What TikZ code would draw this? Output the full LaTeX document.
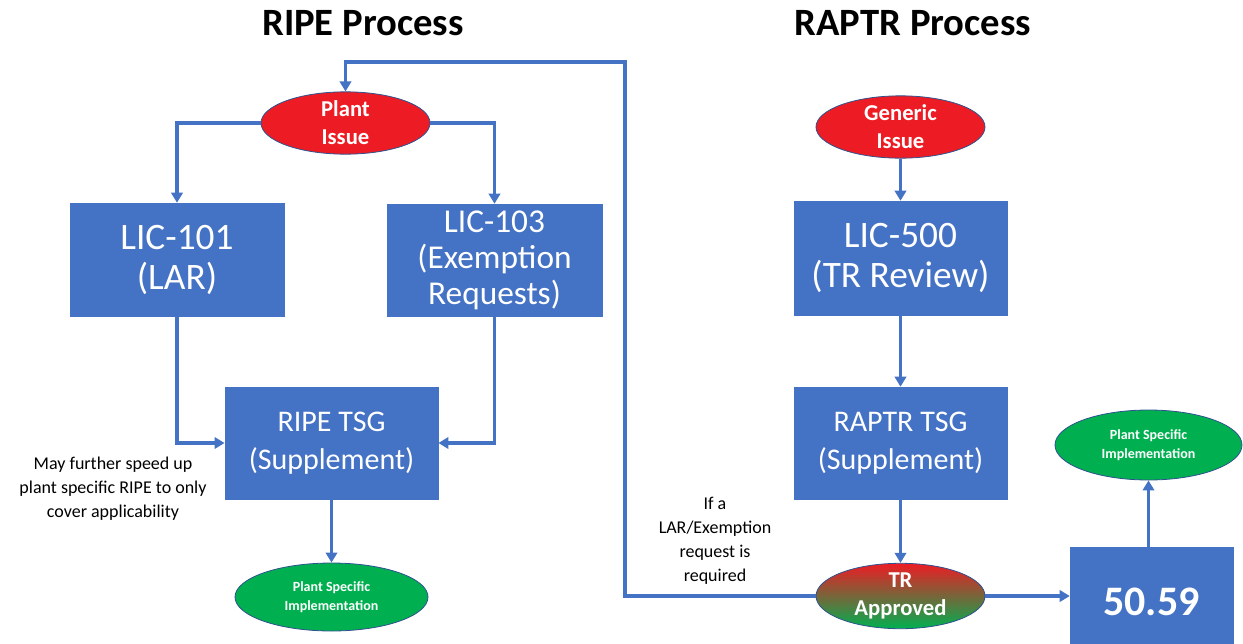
\documentclass[tikz,border=0pt]{standalone}
\usepackage{fontspec}
\setmainfont{Carlito}
\usetikzlibrary{shapes.geometric,arrows.meta}
\definecolor{boxblue}{HTML}{4472C4}
\definecolor{edgeblue}{HTML}{2F528F}
\definecolor{issuered}{HTML}{ED1C24}
\definecolor{implgreen}{HTML}{00B050}
\tikzset{
  stepbox/.style={rectangle, fill=boxblue, draw=boxblue, text=white, align=center,
    inner sep=0pt, minimum width=160pt, minimum height=84pt},
  oval/.style={ellipse, draw=edgeblue, line width=0.6pt, text=white, align=center,
    inner sep=0pt, font=\bfseries},
  issue/.style={oval, fill=issuered, minimum width=126.75pt, minimum height=44.5pt,
    font=\bfseries\fontsize{17}{21}\selectfont},
  impl/.style={oval, fill=implgreen, font=\bfseries\fontsize{10.5}{14}\selectfont},
  arr/.style={draw=boxblue, line width=2.6pt,
    -{Triangle[length=7.5pt,width=8.5pt]}},
  note/.style={align=center, text=black, font=\fontsize{13.5}{18}\selectfont},
  heading/.style={font=\bfseries\fontsize{29}{34}\selectfont, text=black}
}
\begin{document}
\begin{tikzpicture}[x=0.75pt,y=-0.75pt]
\useasboundingbox (0,0) rectangle (1243,643);
\clip (0,0) rectangle (1243,643);

% headings
\node[heading] (h1) at (363,23) {RIPE Process};
\node[heading] (h2) at (913,23) {RAPTR Process};

% RIPE side
\node[issue] (pi) at (345.5,123) {Plant\\Issue};
\node[stepbox, minimum width=160.5pt, minimum height=84.75pt,
  font=\fontsize{28}{30}\selectfont] (l101) at (177,259.5) {\rule{0pt}{12pt}LIC-101\\(LAR)};
\node[stepbox, minimum width=161.25pt, minimum height=84pt,
  font=\fontsize{25}{27}\selectfont] (l103) at (494.5,260) {\rule{0pt}{12pt}LIC-103\\(Exemption\\Requests)};
\node[stepbox, font=\fontsize{22.5}{28.5}\selectfont] (ripe) at (331.5,443) {\rule{0pt}{12pt}RIPE TSG\\(Supplement)};
\node[impl, minimum width=144.75pt, minimum height=51pt] (psi1) at (331.5,597)
  {Plant Specific\\Implementation};
\node[note] (n1) at (113,489) {May further speed up\\plant specific RIPE to only\\cover applicability};

% RAPTR side
\node[issue] (gi) at (900.5,127) {Generic\\Issue};
\node[stepbox, minimum height=85.5pt, font=\fontsize{28}{30}\selectfont]
  (l500) at (900.5,258) {\rule{0pt}{12pt}LIC-500\\(TR Review)};
\node[stepbox, font=\fontsize{22.5}{28.5}\selectfont] (raptr) at (900.5,443) {\rule{0pt}{12pt}RAPTR TSG\\(Supplement)};
\node[oval, top color=issuered, bottom color=implgreen, minimum width=126.75pt,
  minimum height=48pt, font=\bfseries\fontsize{17}{21}\selectfont] (tra) at (900.5,596) {TR\\Approved};
\node[stepbox, minimum width=122.25pt, minimum height=82.5pt,
  font=\bfseries\fontsize{31.5}{34}\selectfont] (b5059) at (1151.5,602) {50.59};
\node[impl, minimum width=140.25pt, minimum height=52.5pt] (psi2) at (1148.5,445)
  {Plant Specific\\Implementation};
\node[note] (n2) at (715,541) {If a\\LAR/Exemption\\request is\\required};

% RIPE connectors
\draw[arr] (pi.west) -| (l101.north);
\draw[arr] (pi.east) -| (l103.north);
\draw[arr] (l101.south) |- (ripe.west);
\draw[arr] (l103.south) |- (ripe.east);
\draw[arr] (ripe.south) -- (psi1.north);

% RAPTR connectors
\draw[arr] (gi.south) -- (l500.north);
\draw[arr] (l500.south) -- (raptr.north);
\draw[arr] (raptr.south) -- (tra.north);
\draw[arr] (tra.east) -- (tra.east -| b5059.west);
\draw[arr] (b5059.north -| psi2.south) -- (psi2.south);

% feedback loop from TR approval back to plant issue
\coordinate (fbA) at (625,62);
\coordinate (fbB) at (345.5,62);
\draw[arr] (tra.west) -| (fbA) -- (fbB) -- (pi.north);
\end{tikzpicture}
\end{document}
